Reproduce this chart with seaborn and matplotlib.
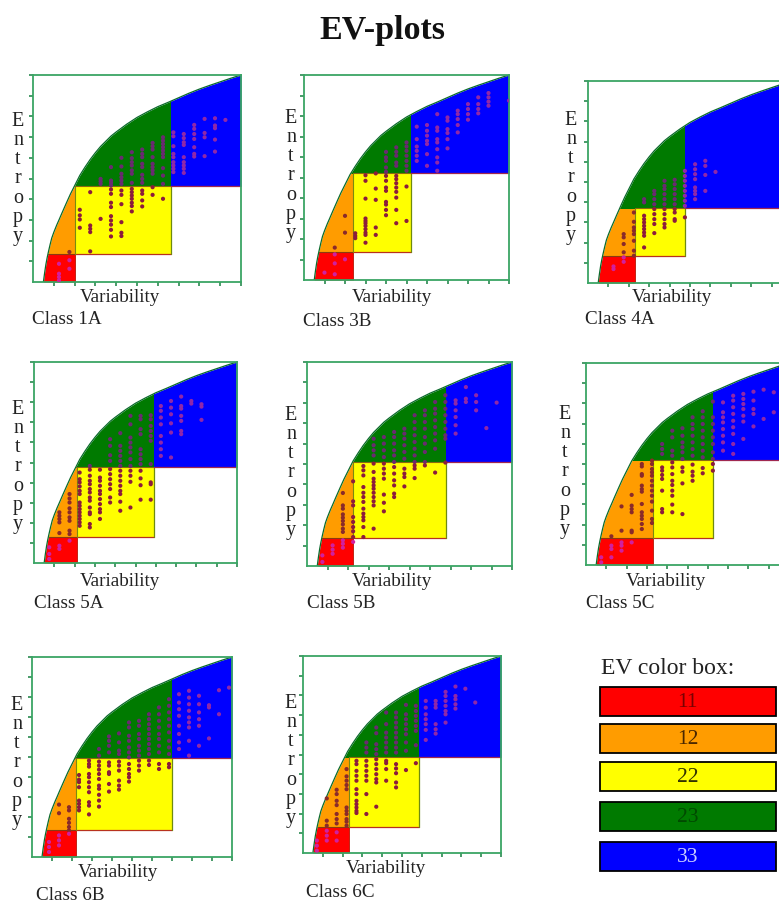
import pandas as pd
import seaborn as sns
from matplotlib import pyplot as plt
from matplotlib.patches import Rectangle

# max entropy curve (ticks 0..10 on both axes)
curve_x = [0.5, 0.56, 0.62, 0.68, 0.74, 0.82, 0.9, 1.0, 1.14, 1.25, 1.4, 1.62, 1.8, 2.0, 2.25, 2.5, 2.75, 3.0, 3.25, 3.5, 3.75, 4.0, 4.5, 5.0, 5.5, 6.0, 6.5, 7.0, 7.5, 8.0, 8.5, 9.0, 9.5, 10.0]
curve_y = [0.0, 0.45, 0.85, 1.17, 1.45, 1.8, 2.12, 2.4, 2.75, 3.0, 3.35, 3.85, 4.25, 4.65, 5.15, 5.55, 5.92, 6.25, 6.55, 6.8, 7.05, 7.25, 7.62, 7.95, 8.22, 8.47, 8.68, 8.9, 9.12, 9.32, 9.5, 9.67, 9.84, 10.0]

names = ['Class 1A', 'Class 3B', 'Class 4A', 'Class 5A', 'Class 5B', 'Class 5C', 'Class 6B', 'Class 6C']

# EV class borders of each panel
x1 = [2.04, 2.38, 2.30, 2.10, 2.24, 3.28, 2.18, 2.30]
x2 = [6.63, 5.21, 4.75, 5.92, 6.76, 6.28, 7.02, 5.84]
y1 = [1.35, 1.35, 1.32, 1.31, 1.39, 1.34, 1.33, 1.30]
y2 = [4.63, 5.23, 3.69, 4.80, 5.10, 5.21, 4.93, 4.88]

# class dots, one list of entropies per variability column
cols_1a = [1.25, 1.75, 2.25, 2.75, 3.25, 3.75, 4.25, 4.75, 5.25, 5.75, 6.25, 6.75, 7.25, 7.75, 8.25, 8.75, 9.25]
dots_1a = [
    [0.88, 0.40, 0.24, 0.08], [1.45, 1.05, 0.64], [3.49, 3.22, 3.02, 2.62],
    [4.34, 2.73, 2.57, 2.41, 1.48], [4.98, 4.86, 4.74, 3.05],
    [5.55, 4.90, 4.79, 4.66, 4.47, 4.26, 3.83, 3.62, 3.18, 2.97, 2.77, 2.52, 2.20],
    [6.0, 5.58, 5.23, 5.06, 4.90, 4.74, 4.42, 4.21, 3.76, 2.89, 2.38, 2.22],
    [6.27, 5.98, 5.79, 5.63, 5.39, 5.23, 4.79, 4.50, 4.34, 4.18, 4.02, 3.83, 3.67, 3.41],
    [6.40, 6.19, 6.03, 5.71, 5.55, 5.18, 4.98, 4.79, 4.42, 4.26, 3.94, 3.65],
    [6.72, 6.56, 6.40, 6.03, 5.71, 5.55, 5.39, 5.23, 4.58, 4.21],
    [6.99, 6.83, 6.67, 6.51, 6.35, 6.19, 6.03, 5.50, 5.14, 4.74, 4.02],
    [7.23, 7.04, 6.56, 6.19, 6.03, 5.79, 5.63, 5.47, 5.31],
    [7.15, 6.95, 6.75, 6.62, 6.03, 5.79, 5.63, 5.47, 5.27],
    [7.59, 7.40, 7.15, 6.91, 6.51, 6.19, 6.06], [7.88, 7.20, 6.99, 6.08],
    [7.91, 7.56, 7.43, 6.88, 6.30], [7.83],
]

cols_3b = [1.0, 1.5, 2.0, 2.5, 3.0, 3.5, 4.0, 4.5, 5.0, 5.5, 6.0, 6.5, 7.0, 7.5, 8.0, 8.5, 9.0, 10.0]
dots_3b = [
    [0.36], [1.58, 1.25, 0.81, 0.28], [3.13, 2.31, 1.01], [2.28, 2.15, 2.04],
    [5.11, 4.84, 3.97, 3.0, 2.88, 2.77, 2.64, 2.48, 2.31, 2.2, 1.82],
    [5.2, 4.46, 3.91, 2.56, 2.2],
    [6.25, 5.98, 5.81, 5.49, 5.28, 5.08, 4.84, 4.51, 4.35, 3.81, 3.68, 3.42, 3.16],
    [6.47, 6.25, 6.06, 5.73, 5.57, 5.08, 4.92, 4.72, 4.51, 4.3, 4.02, 3.42, 2.77],
    [6.71, 6.51, 6.3, 6.06, 5.81, 5.57, 5.33, 4.56, 2.88],
    [7.48, 6.87, 6.51, 6.3, 6.06, 5.81], [7.56, 7.28, 7.04, 6.79, 6.63, 6.14, 5.57],
    [8.09, 7.44, 7.28, 6.87, 6.71, 6.38, 5.98, 5.73, 5.33],
    [7.93, 7.77, 7.36, 7.17, 6.87, 6.42], [8.26, 8.09, 7.85, 7.56, 7.2],
    [8.58, 8.34, 8.09, 7.82], [8.91, 8.58, 8.34, 8.13], [9.12, 8.91, 8.7, 8.5], [8.75],
]

cols_4a = [1.25, 1.75, 2.25, 2.75, 3.25, 3.75, 4.25, 4.75, 5.25, 5.75, 6.25]
dots_4a = [
    [0.82, 0.69], [2.42, 2.26, 1.93, 1.52, 1.27, 1.05],
    [3.49, 3.03, 2.75, 2.59, 2.42, 2.09, 1.6, 1.35],
    [4.15, 3.99, 3.33, 3.16, 3.0, 2.83, 2.67, 2.5, 2.34, 1.76],
    [4.56, 4.4, 4.15, 3.9, 3.66, 3.41, 3.16, 2.92, 2.47],
    [5.06, 4.81, 4.65, 4.4, 4.15, 3.9, 3.66, 3.41, 3.16, 2.92, 2.75],
    [5.11, 4.89, 4.65, 4.4, 4.15, 3.9, 3.66, 3.49, 3.16, 3.08],
    [5.55, 5.3, 5.06, 4.81, 4.56, 4.32, 4.07, 3.82, 3.25],
    [5.88, 5.63, 5.39, 5.14, 4.73, 4.56, 4.4, 4.15], [6.05, 5.8, 5.35, 4.56], [5.5],
]

cols_5a = [0.75, 1.25, 1.75, 2.25, 2.75, 3.25, 3.75, 4.25, 4.75, 5.25, 5.75, 6.25, 6.75, 7.25, 7.75, 8.25]
dots_5a = [
    [0.78, 0.45, 0.2], [2.52, 2.35, 2.19, 2.02, 1.49, 0.86, 0.7],
    [3.43, 3.21, 3.01, 2.72, 2.52, 2.27, 2.1, 1.61, 1.44, 1.11],
    [4.5, 4.17, 4.01, 3.81, 3.59, 3.43, 3.01, 2.85, 2.68, 2.52, 2.35, 2.19, 2.02, 1.85],
    [4.83, 4.64, 4.34, 4.09, 3.92, 3.68, 3.51, 3.26, 3.1, 2.76, 2.52, 2.43, 1.94, 1.77],
    [4.64, 4.25, 4.09, 3.84, 3.59, 3.43, 3.18, 2.93, 2.68, 2.52, 2.19],
    [6.16, 5.83, 5.36, 5.08, 4.67, 4.42, 4.17, 3.92, 3.68, 3.26, 3.01],
    [6.46, 5.83, 5.58, 5.33, 5.08, 4.83, 4.59, 4.34, 4.09, 3.84, 3.59, 3.43, 3.05, 2.6],
    [7.32, 6.9, 6.24, 5.99, 5.75, 5.5, 5.17, 4.83, 4.59, 4.34, 4.04, 2.76],
    [7.32, 7.15, 6.66, 6.41, 5.66, 5.41, 5.17, 4.92, 4.59, 4.21, 3.87, 3.15],
    [7.35, 7.15, 6.82, 6.57, 6.32, 6.08, 4.92, 4.01, 3.92, 3.15],
    [7.81, 7.57, 7.24, 6.9, 6.32, 5.99, 5.66, 5.33], [8.06, 7.73, 7.4, 6.95, 6.49, 5.25],
    [8.28, 7.81, 7.68, 7.32, 7.07, 6.57, 6.41], [8.06, 7.93], [7.9, 7.78, 7.12],
]

cols_5b = [0.75, 1.25, 1.75, 2.25, 2.75, 3.25, 3.75, 4.25, 4.75, 5.25, 5.75, 6.25, 6.75, 7.25, 7.75, 8.25, 8.75, 9.25]
dots_5b = [
    [0.52, 0.2], [1.01, 0.8, 0.6],
    [3.58, 2.97, 2.81, 2.53, 2.37, 2.21, 2.04, 1.83, 1.67, 1.26, 1.09, 0.9],
    [4.15, 3.17, 2.97, 2.4, 2.16, 1.91, 1.7, 1.42, 1.18],
    [4.9, 4.69, 4.44, 3.87, 3.59, 3.38, 3.14, 2.81, 2.57, 2.4, 2.24, 1.91, 1.42],
    [6.24, 5.92, 5.67, 5.42, 5.02, 4.61, 4.28, 4.12, 3.95, 3.79, 3.59, 3.38, 3.17, 2.97, 1.83],
    [6.32, 6.0, 5.67, 5.34, 5.02, 4.77, 4.53, 4.28, 3.5, 3.1, 2.68],
    [6.57, 6.32, 6.0, 5.67, 5.42, 5.1, 4.85, 4.53, 4.2, 3.95, 3.55, 3.38],
    [6.73, 6.49, 6.24, 5.92, 5.59, 5.26, 4.77, 4.53, 4.36, 3.9],
    [7.39, 7.06, 6.73, 6.41, 6.08, 5.75, 5.42, 5.1, 4.93, 4.77, 4.31],
    [7.63, 7.39, 7.06, 6.73, 6.32, 6.0, 5.59, 5.1, 4.93],
    [8.04, 7.71, 7.47, 7.14, 6.81, 6.49, 6.16, 5.75, 4.58],
    [8.37, 8.04, 7.71, 7.39, 7.06, 6.73, 6.41, 6.24, 5.07],
    [8.12, 7.96, 7.63, 7.3, 6.9, 6.49], [8.77, 8.2, 8.04], [8.37, 8.04, 7.63], [6.76], [8.01],
]

cols_5c = [0.75, 1.25, 1.75, 2.25, 2.75, 3.25, 3.75, 4.25, 4.75, 5.25, 5.75, 6.25, 6.75, 7.25, 7.75, 8.25, 8.75, 9.25]
dots_5c = [
    [0.38, 0.13], [1.42, 0.96, 0.79, 0.38], [2.9, 1.7, 1.12, 0.96, 0.71],
    [3.47, 2.94, 2.77, 2.61, 1.7, 1.62, 1.12],
    [5.0, 4.88, 4.5, 4.42, 3.93, 3.76, 3.63, 3.02, 2.61, 2.44, 2.28, 2.03, 1.78],
    [5.17, 5.0, 4.75, 4.59, 4.42, 4.17, 3.93, 3.68, 3.43, 3.14, 2.69, 2.28, 2.08],
    [5.99, 5.74, 5.5, 4.83, 4.67, 4.46, 4.26, 3.68, 2.77, 2.61],
    [6.65, 6.32, 5.66, 5.41, 5.08, 4.83, 4.5, 4.17, 3.96, 3.68, 3.43, 2.99, 2.61],
    [6.77, 6.4, 6.07, 5.83, 5.58, 5.25, 4.83, 4.62, 4.04, 2.52],
    [7.31, 6.98, 6.73, 6.4, 6.07, 5.74, 5.41, 4.97, 4.62, 4.42, 4.17],
    [7.61, 7.31, 6.98, 6.65, 6.32, 5.99, 5.66, 5.33, 4.8, 4.54],
    [8.09, 7.31, 6.98, 6.65, 6.32, 5.99, 5.58, 5.25, 5.0, 4.67],
    [8.05, 7.56, 7.31, 7.06, 6.73, 6.4, 6.07, 5.66],
    [8.38, 8.14, 7.81, 7.48, 7.14, 6.82, 6.49, 5.99, 5.5],
    [8.47, 8.22, 7.97, 7.72, 7.39, 7.1, 6.24], [8.58, 8.14, 7.72, 7.48, 6.86], [8.68, 7.23], [8.55, 7.56],
]

cols_6b = [0.85, 1.35, 1.85, 2.35, 2.85, 3.35, 3.85, 4.35, 4.85, 5.35, 5.85, 6.35, 6.85, 7.35, 7.85, 8.35, 8.85, 9.35, 9.85]
dots_6b = [
    [0.75, 0.5, 0.25], [2.62, 2.19, 1.08, 0.83, 0.58], [2.49, 2.33, 1.91, 1.71, 1.5, 1.33, 1.16],
    [4.1, 3.87, 3.74, 3.49, 2.82, 2.66, 2.49, 2.33],
    [4.82, 4.65, 4.52, 4.15, 3.99, 3.74, 3.49, 3.24, 2.74, 2.57, 2.13],
    [5.4, 5.07, 4.77, 4.57, 4.37, 4.15, 3.9, 3.57, 3.41, 3.11, 2.82, 2.52],
    [6.03, 5.81, 5.56, 5.23, 4.73, 4.57, 4.24, 4.15, 3.65, 3.27],
    [6.18, 5.73, 5.32, 5.15, 4.77, 4.57, 4.32, 3.82, 3.57, 3.37],
    [6.73, 6.48, 6.06, 5.81, 5.48, 5.23, 4.98, 4.65, 4.4, 4.15, 3.99, 3.77],
    [6.81, 6.56, 6.15, 5.9, 5.56, 5.32, 5.07, 4.82, 4.57, 4.32],
    [7.14, 6.89, 6.64, 6.4, 6.15, 5.9, 5.65, 5.4, 5.15, 4.82, 4.6],
    [7.48, 7.14, 6.81, 6.48, 6.15, 5.9, 5.56, 5.23, 4.65, 4.4],
    [7.89, 7.56, 7.23, 6.89, 6.56, 6.23, 5.81, 5.48, 5.15, 4.65, 4.49],
    [8.14, 7.72, 7.39, 7.06, 6.56, 6.15, 5.73, 5.4],
    [8.31, 7.97, 7.64, 7.31, 6.98, 6.73, 6.48, 5.81, 5.07],
    [8.06, 7.64, 7.23, 6.89, 6.56, 5.56], [7.59, 7.48, 5.93], [8.34, 7.14], [8.47],
]

cols_6c = [0.7, 1.2, 1.7, 2.2, 2.7, 3.2, 3.7, 4.2, 4.7, 5.2, 5.7, 6.2, 6.7, 7.2, 7.7, 8.2, 8.7]
dots_6c = [
    [0.63, 0.37, 0.12], [2.77, 1.64, 1.39, 1.13, 0.88, 0.63],
    [3.21, 2.99, 2.65, 2.43, 1.98, 1.72, 1.5, 1.05, 0.63],
    [4.26, 3.89, 3.67, 3.45, 3.24, 2.31, 2.14, 1.98, 1.72, 1.59, 1.39],
    [4.68, 4.51, 4.17, 3.92, 3.67, 3.24, 2.99, 2.65, 2.48, 2.31, 2.14, 2.03],
    [5.61, 5.35, 5.1, 4.68, 4.43, 4.17, 3.92, 3.67, 2.99, 1.98],
    [6.37, 6.08, 5.52, 5.27, 5.02, 4.76, 4.51, 4.26, 4.0, 3.75, 3.58, 2.35],
    [7.13, 6.54, 6.11, 5.86, 5.61, 5.35, 5.1, 4.68, 4.56, 4.26, 3.67],
    [7.13, 6.88, 6.62, 6.37, 6.11, 5.86, 5.61, 5.35, 5.1, 4.51, 4.29, 4.05, 3.58, 3.33],
    [7.52, 7.04, 6.79, 6.54, 6.28, 6.03, 5.61, 5.19, 4.21],
    [7.47, 7.21, 6.96, 6.71, 6.45, 6.2, 5.47, 4.56],
    [7.72, 7.38, 7.04, 6.79, 6.54, 6.25, 5.74], [7.72, 7.55, 7.38, 6.54, 6.28, 6.06],
    [8.18, 7.97, 7.72, 7.47, 7.21, 7.04, 6.62], [8.45, 7.97, 7.8, 7.55, 7.33], [8.34], [7.64],
]

all_cols = [cols_1a, cols_3b, cols_4a, cols_5a, cols_5b, cols_5c, cols_6b, cols_6c]
all_dots = [dots_1a, dots_3b, dots_4a, dots_5a, dots_5b, dots_5c, dots_6b, dots_6c]

legend_labels = ['11', '12', '22', '23', '33']

# layout in pixels of the 779x904 picture: left, right, top, bottom
W, H = 779, 904
boxes = [(33, 241, 76, 283), (304, 509, 76, 281), (588, 792, 82, 284), (34, 237, 363, 564),
         (307, 512, 363, 567), (586, 789, 364, 566), (32, 232, 658, 858), (303, 501, 657, 854)]
var_pos = [(120, 298), (392, 297), (672, 298), (120, 582), (392, 582), (666, 582), (118, 873), (386, 869)]
class_pos = [(32, 320), (303, 321), (585, 320), (34, 604), (307, 604), (586, 604), (36, 896), (306, 893)]
ent_pos = [(18, 179), (291, 176), (571, 178), (18, 467), (291, 473), (565, 472), (17, 763), (291, 761)]
legend_boxes = [(688, 717), (725, 754), (763, 792), (803, 832), (843, 872)]

ev_colors = {'red': '#ff0000', 'orange': '#ff9c00', 'yellow': '#ffff00', 'green': '#007a00', 'blue': '#0000ff'}
dot_colors = {'red': '#d020a0', 'orange': '#8a2a2a', 'yellow': '#8c1c3c', 'green': '#6a2a70', 'blue': '#9028a8'}
legend_text = ['#7a0000', '#4a2800', '#333300', '#004a00', '#c8ccff']
frame = '#3aa564'
tick_green = '#2a8a50'


def zone(x, y, i):
    if y < y1[i]:
        return 'red'
    if y >= y2[i]:
        return 'green' if x < x2[i] else 'blue'
    return 'orange' if x < x1[i] else 'yellow'


sns.set_theme(style='white')
plt.rcParams['font.family'] = ['Liberation Serif', 'DejaVu Serif']
text_col = '#222222'

fig = plt.figure(figsize=(W / 100, H / 100), dpi=100)


def px_axes(l, r, t, b):
    return fig.add_axes([l / W, 1 - b / H, (r - l) / W, (b - t) / H])


def px_text(x, y, s, **kw):
    fig.text(x / W, 1 - y / H, s, color=kw.pop('color', text_col), **kw)


px_text(382, 31, 'EV-plots', fontsize=24.5, fontweight='bold', ha='center', va='center', color='#111111')

for i, name in enumerate(names):
    ax = px_axes(*boxes[i])
    ax.set_xlim(0, 10)
    ax.set_ylim(0, 10)

    # zones are the area under the curve cut by rectangles
    rects = {
        'red': (0, 0, x1[i], y1[i]),
        'orange': (0, y1[i], x1[i], y2[i] - y1[i]),
        'yellow': (x1[i], y1[i], x2[i] - x1[i], y2[i] - y1[i]),
        'green': (0, y2[i], x2[i], 10 - y2[i]),
        'blue': (x2[i], y2[i], 10 - x2[i], 10 - y2[i]),
    }
    for key, (rx, ry, rw, rh) in rects.items():
        area = ax.fill_between(curve_x, 0, curve_y, color=ev_colors[key], linewidth=0, zorder=1)
        area.set_clip_path(Rectangle((rx, ry), rw, rh, transform=ax.transData))
    ax.plot(curve_x, curve_y, color='#0b6b2c', lw=0.9, zorder=2)

    # thin coloured borders of the zones
    ax.plot([x1[i], x2[i]], [y1[i], y1[i]], color='#b8321e', lw=0.9, zorder=2)
    ax.plot([curve_x[4], x1[i]], [y1[i], y1[i]], color='#8a3a10', lw=0.8, zorder=2)
    ax.plot([x1[i], x1[i]], [0, y1[i]], color='#c02818', lw=0.7, zorder=2)
    ax.plot([x1[i], x1[i]], [y1[i], y2[i]], color='#7a8a10', lw=0.8, zorder=2)
    ax.plot([x2[i], x2[i]], [y1[i], y2[i]], color='#6f8a10', lw=0.9, zorder=2)
    ax.plot([x1[i], x2[i]], [y2[i], y2[i]], color='#8a6a10', lw=0.8, zorder=2)
    ax.plot([x2[i], 10], [y2[i], y2[i]], color='#a02850', lw=0.9, zorder=2)

    xs, ys, zs = [], [], []
    for cx, col in zip(all_cols[i], all_dots[i]):
        for v in col:
            xs.append(cx)
            ys.append(v)
            zs.append(zone(cx, v, i))
    df = pd.DataFrame({'variability': xs, 'entropy': ys, 'zone': zs})
    sns.scatterplot(data=df, x='variability', y='entropy', hue='zone', palette=dot_colors,
                    s=9, linewidth=0, legend=False, ax=ax, zorder=3)

    ax.set_xlim(0, 10)
    ax.set_ylim(0, 10)
    ax.set_xlabel('')
    ax.set_ylabel('')
    ax.set_xticks(range(1, 11))
    ax.set_yticks(range(1, 11))
    ax.set_xticklabels([])
    ax.set_yticklabels([])
    ax.tick_params(left=True, bottom=True, length=3, width=1.2, color=tick_green)
    for s in ax.spines.values():
        s.set_color(frame)
        s.set_linewidth(1.3)
        s.set_visible(True)

    px_text(*var_pos[i], 'Variability', fontsize=13.8, ha='center', va='center')
    px_text(*class_pos[i], name, fontsize=13.8, ha='left', va='center')
    px_text(*ent_pos[i], '\n'.join('Entropy'), fontsize=14.5, ha='center', va='center',
            linespacing=1.02, multialignment='center')

# colour box
px_text(601, 668, 'EV color box:', fontsize=17, ha='left', va='center')
for lab, (top, bot), c, tc in zip(legend_labels, legend_boxes, ev_colors.values(), legend_text):
    ax = px_axes(599.5, 776, top, bot)
    sns.barplot(x=[1], y=[lab], color=c, saturation=1, edgecolor='black', linewidth=1.3, width=1, ax=ax)
    ax.set_xlim(0, 1)
    ax.axis('off')
    for p in ax.patches:
        p.set_clip_on(False)
    ax.text(0.5, 0, lab, color=tc, fontsize=15.5, ha='center', va='center')

fig.savefig('out.png', dpi=100)
